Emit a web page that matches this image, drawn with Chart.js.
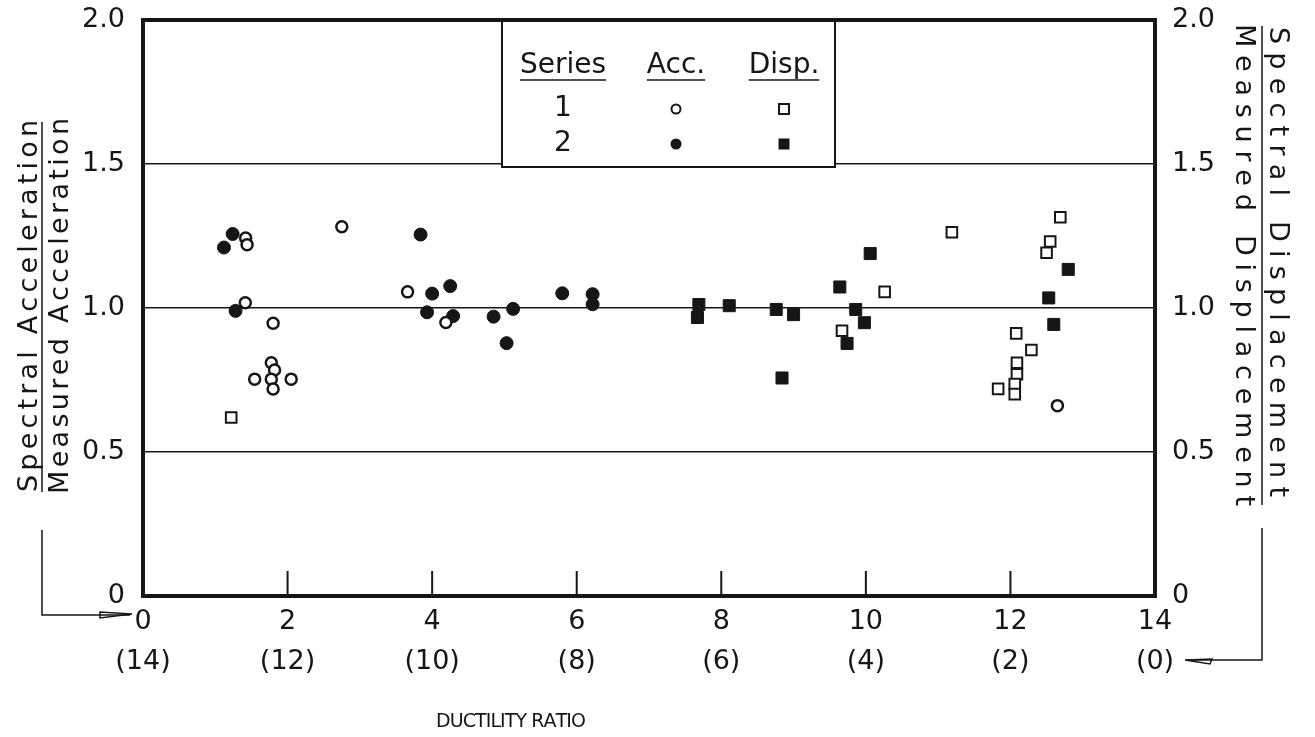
<!DOCTYPE html>
<html lang="en">
<head>
<meta charset="UTF-8">
<title>Spectral / measured response vs ductility ratio</title>
<style>
  html, body { margin: 0; padding: 0; background: #fff; }
  .chart-box { width: 1315px; height: 737px; position: relative; }
</style>
</head>
<body>
<div class="chart-box">
  <canvas id="chart" width="1315" height="737"></canvas>
</div>
<script src="https://cdn.jsdelivr.net/npm/chart.js"></script>
<script>
// tick values
const xTicks = [0, 2, 4, 6, 8, 10, 12, 14];
const yTicks = [0, 0.5, 1.0, 1.5, 2.0];
const gridValues = [0.5, 1.0, 1.5];

// [ductility ratio, ratio]
const series1Acc = [
  [1.42, 1.243], [1.44, 1.22], [1.415, 1.018], [1.80, 0.947], [1.775, 0.81],
  [1.82, 0.785], [1.545, 0.753], [1.775, 0.753], [2.05, 0.753], [1.80, 0.719],
  [2.75, 1.282], [3.66, 1.056], [4.19, 0.95], [12.65, 0.661]
];
const series2Acc = [
  [1.24, 1.257], [1.12, 1.21], [1.28, 0.99], [3.84, 1.255], [4.00, 1.05],
  [4.25, 1.076], [3.93, 0.985], [4.29, 0.972], [4.85, 0.97], [5.12, 0.997],
  [5.03, 0.878], [5.80, 1.051], [6.22, 1.048], [6.22, 1.013]
];
const series1Disp = [
  [1.22, 0.62], [9.67, 0.921], [10.26, 1.056], [11.19, 1.263], [12.69, 1.315],
  [12.55, 1.231], [12.50, 1.192], [12.08, 0.912], [12.29, 0.854], [12.09, 0.81],
  [12.09, 0.77], [12.06, 0.736], [12.06, 0.701], [11.83, 0.719]
];
const series2Disp = [
  [7.69, 1.012], [7.67, 0.967], [8.11, 1.008], [8.76, 0.995], [9.00, 0.977],
  [8.84, 0.757], [9.64, 1.073], [10.06, 1.189], [9.86, 0.995], [9.98, 0.949],
  [9.74, 0.877], [12.80, 1.134], [12.53, 1.035], [12.60, 0.943]
];

const INK = '#161616';
const FONT = "'DejaVu Sans', sans-serif";

function toPoints(arr) {
  return arr.map(p => ({ x: p[0], y: p[1] }));
}

// draw text spread out to a given width, starting at x0 on the baseline
function spacedText(ctx, text, x0, y, target) {
  const widths = [...text].map(ch => ctx.measureText(ch).width);
  const sum = widths.reduce((a, b) => a + b, 0);
  const gap = (target - sum) / (text.length - 1);
  let x = x0;
  [...text].forEach((ch, i) => {
    ctx.fillText(ch, x, y);
    x += widths[i] + gap;
  });
}

function rotatedText(ctx, text, bx, cy, angle, target, size) {
  ctx.save();
  ctx.translate(bx, cy);
  ctx.rotate(angle);
  ctx.font = size + 'px ' + FONT;
  ctx.textAlign = 'left';
  ctx.textBaseline = 'alphabetic';
  spacedText(ctx, text, -target / 2, 0, target);
  ctx.restore();
}

function line(ctx, pts) {
  ctx.beginPath();
  ctx.moveTo(pts[0][0], pts[0][1]);
  pts.slice(1).forEach(p => ctx.lineTo(p[0], p[1]));
  ctx.stroke();
}

// keep the plot frame where the original has it
function fitVertical(width) {
  return s => { s.width = width; s.paddingTop = 0; s.paddingBottom = 0; };
}

const decorations = {
  id: 'decorations',
  afterDatasetsDraw(chart) {
    const { ctx, chartArea: a, scales: { x } } = chart;
    ctx.save();
    ctx.strokeStyle = INK;
    ctx.fillStyle = INK;

    // short inner ticks on the bottom edge
    ctx.lineWidth = 2;
    xTicks.slice(1, -1).forEach(v => {
      const px = x.getPixelForValue(v);
      line(ctx, [[px, a.bottom], [px, a.bottom - 25]]);
    });

    // heavy frame
    ctx.lineWidth = 4;
    ctx.strokeRect(a.left, a.top, a.right - a.left, a.bottom - a.top);

    // key box
    const L = 502, R = 835, B = 167;
    ctx.fillStyle = '#fff';
    ctx.fillRect(L, a.top + 2, R - L, B - a.top - 2);
    ctx.lineWidth = 2;
    line(ctx, [[L, a.top], [L, B], [R, B], [R, a.top]]);

    ctx.fillStyle = INK;
    ctx.font = '28px ' + FONT;
    ctx.textAlign = 'center';
    ctx.textBaseline = 'alphabetic';
    const cols = [563, 676, 784];
    const heads = ['Series', 'Acc.', 'Disp.'];
    ctx.lineWidth = 1.5;
    heads.forEach((h, i) => {
      ctx.fillText(h, cols[i], 73);
      const w = ctx.measureText(h).width;
      line(ctx, [[cols[i] - w / 2, 80], [cols[i] + w / 2, 80]]);
    });
    ctx.textBaseline = 'middle';
    const rows = [109, 144];
    ctx.fillText('1', cols[0], rows[0]);
    ctx.fillText('2', cols[0], rows[1]);

    ctx.lineWidth = 2;
    ctx.beginPath(); ctx.arc(cols[1], rows[0], 4.5, 0, Math.PI * 2); ctx.stroke();
    ctx.beginPath(); ctx.arc(cols[1], rows[1], 5.5, 0, Math.PI * 2); ctx.fill();
    ctx.strokeRect(cols[2] - 5, rows[0] - 5, 10, 10);
    ctx.fillRect(cols[2] - 5.5, rows[1] - 5.5, 11, 11);
    ctx.restore();
  },
  afterDraw(chart) {
    const { ctx } = chart;
    ctx.save();
    ctx.strokeStyle = INK;
    ctx.fillStyle = INK;
    ctx.lineWidth = 1.5;

    // left title as a fraction
    rotatedText(ctx, 'Spectral Acceleration', 37, 306, -Math.PI / 2, 372, 27);
    rotatedText(ctx, 'Measured Acceleration', 68, 306, -Math.PI / 2, 376, 27);
    line(ctx, [[42, 122], [42, 492]]);
    line(ctx, [[42, 530], [42, 615], [130, 615]]);
    ctx.beginPath();
    ctx.moveTo(132, 614); ctx.lineTo(100, 612); ctx.lineTo(100, 618); ctx.closePath();
    ctx.stroke();

    // right title as a fraction
    rotatedText(ctx, 'Spectral Displacement', 1270, 262, Math.PI / 2, 470, 27);
    rotatedText(ctx, 'Measured Displacement', 1236, 265, Math.PI / 2, 482, 27);
    line(ctx, [[1262, 26], [1262, 505]]);
    line(ctx, [[1262, 528], [1262, 660], [1187, 660]]);
    ctx.beginPath();
    ctx.moveTo(1185, 660); ctx.lineTo(1212, 659); ctx.lineTo(1210, 664); ctx.closePath();
    ctx.stroke();

    // x title
    ctx.font = '19px ' + FONT;
    ctx.textBaseline = 'middle';
    spacedText(ctx, 'DUCTILITY RATIO', 436, 722, 150);
    ctx.restore();
  }
};

new Chart(document.getElementById('chart').getContext('2d'), {
  type: 'scatter',
  data: {
    datasets: [
      {
        label: 'Series 1 Acc.',
        data: toPoints(series1Acc),
        pointStyle: 'circle',
        pointRadius: 5.5,
        pointBackgroundColor: '#fff',
        pointBorderColor: INK,
        pointBorderWidth: 2.5
      },
      {
        label: 'Series 2 Acc.',
        data: toPoints(series2Acc),
        pointStyle: 'circle',
        pointRadius: 6.5,
        pointBackgroundColor: INK,
        pointBorderColor: INK,
        pointBorderWidth: 1
      },
      {
        label: 'Series 1 Disp.',
        data: toPoints(series1Disp),
        yAxisID: 'y2',
        pointStyle: 'rect',
        pointRadius: 7.5,
        pointBackgroundColor: '#fff',
        pointBorderColor: INK,
        pointBorderWidth: 2
      },
      {
        label: 'Series 2 Disp.',
        data: toPoints(series2Disp),
        yAxisID: 'y2',
        pointStyle: 'rect',
        pointRadius: 8.5,
        pointBackgroundColor: INK,
        pointBorderColor: INK,
        pointBorderWidth: 1
      }
    ]
  },
  options: {
    responsive: false,
    animation: false,
    layout: { padding: { top: 20, left: 0, right: 0, bottom: 0 } },
    plugins: {
      legend: { display: false },
      tooltip: { enabled: false }
    },
    scales: {
      x: {
        type: 'linear',
        min: 0,
        max: 14,
        afterBuildTicks: s => { s.ticks = xTicks.map(v => ({ value: v })); },
        afterFit: s => { s.height = 141; s.paddingLeft = 0; s.paddingRight = 0; },
        grid: { display: false, drawTicks: false },
        border: { display: false },
        ticks: {
          color: INK,
          padding: 6,
          maxRotation: 0,
          autoSkip: false,
          font: { family: FONT, size: 27, lineHeight: 1.48 },
          callback: v => [String(v), '(' + (14 - v) + ')']
        }
      },
      y: {
        position: 'left',
        min: 0,
        max: 2,
        afterBuildTicks: s => { s.ticks = yTicks.map(v => ({ value: v })); },
        afterFit: fitVertical(143),
        grid: {
          drawTicks: false,
          lineWidth: 1.5,
          color: c => gridValues.includes(c.tick && c.tick.value) ? INK : 'rgba(0,0,0,0)'
        },
        border: { display: false },
        ticks: {
          color: INK,
          padding: 18,
          font: { family: FONT, size: 27 },
          callback: v => v === 0 ? '0' : v.toFixed(1)
        }
      },
      y2: {
        position: 'right',
        min: 0,
        max: 2,
        afterBuildTicks: s => { s.ticks = yTicks.map(v => ({ value: v })); },
        afterFit: fitVertical(160),
        grid: { display: false, drawTicks: false },
        border: { display: false },
        ticks: {
          color: INK,
          padding: 17,
          font: { family: FONT, size: 27 },
          callback: v => v === 0 ? '0' : v.toFixed(1)
        }
      }
    }
  },
  plugins: [decorations]
});
</script>
</body>
</html>
